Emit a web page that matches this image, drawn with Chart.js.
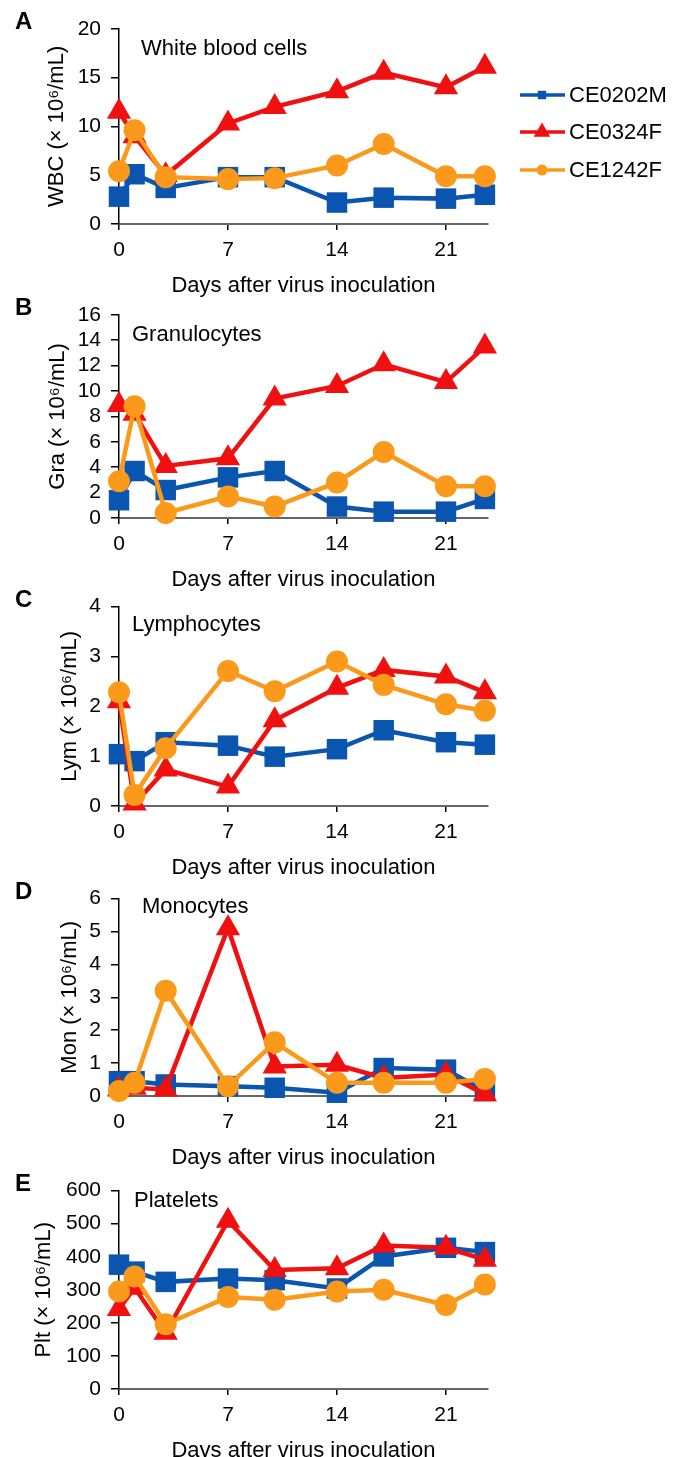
<!DOCTYPE html>
<html>
<head>
<meta charset="utf-8">
<script src="https://cdn.jsdelivr.net/npm/chart.js@4.4.0/dist/chart.umd.min.js"></script>
<style>
  html, body { margin: 0; padding: 0; background: #fff; overflow: hidden; }
  canvas { position: absolute; left: 0; display: block; }
</style>
</head>
<body>
<canvas id="panelA" width="683" height="310"></canvas>
<canvas id="panelB" width="683" height="310"></canvas>
<canvas id="panelC" width="683" height="310"></canvas>
<canvas id="panelD" width="683" height="310"></canvas>
<canvas id="panelE" width="683" height="310"></canvas>
<script>
// days after inoculation (shared by all panels)
const days = [0, 1, 3, 7, 10, 14, 17, 21, 23.5];
const xTicks = [0, 7, 14, 21];
const seriesNames = ['CE0202M', 'CE0324F', 'CE1242F'];

// A - white blood cells
const wbc0202M = [2.8, 5.1, 3.7, 4.8, 4.8, 2.2, 2.7, 2.6, 3.0];
const wbc0324F = [11.5, 9.0, 5.0, 10.3, 12.0, 13.6, 15.5, 14.0, 16.1];
const wbc1242F = [5.4, 9.6, 4.8, 4.6, 4.7, 6.0, 8.2, 4.9, 4.9];
const wbcTicks = [0, 5, 10, 15, 20];

// B - granulocytes
const gra0202M = [1.4, 3.7, 2.2, 3.2, 3.7, 0.9, 0.5, 0.5, 1.5];
const gra0324F = [8.9, 8.2, 4.1, 4.7, 9.4, 10.4, 12.1, 10.7, 13.5];
const gra1242F = [2.9, 8.8, 0.4, 1.7, 0.9, 2.8, 5.2, 2.5, 2.5];
const graTicks = [0, 2, 4, 6, 8, 10, 12, 14, 16];

// C - lymphocytes
const lym0202M = [1.04, 0.9, 1.28, 1.21, 0.99, 1.14, 1.52, 1.28, 1.23];
const lym0324F = [2.1, 0.05, 0.73, 0.39, 1.72, 2.37, 2.73, 2.6, 2.28];
const lym1242F = [2.28, 0.22, 1.16, 2.71, 2.3, 2.9, 2.43, 2.04, 1.91];
const lymTicks = [0, 1, 2, 3, 4];

// D - monocytes
const mon0202M = [0.45, 0.45, 0.35, 0.3, 0.25, 0.1, 0.85, 0.8, 0.15];
const mon0324F = [0.2, 0.25, 0.2, 5.1, 0.9, 0.95, 0.55, 0.65, 0.05];
const mon1242F = [0.15, 0.4, 3.2, 0.3, 1.63, 0.4, 0.4, 0.4, 0.52];
const monTicks = [0, 1, 2, 3, 4, 5, 6];

// E - platelets
const plt0202M = [376, 355, 324, 334, 329, 304, 401, 427, 414];
const plt0324F = [242, 306, 170, 509, 360, 365, 434, 427, 391];
const plt1242F = [295, 340, 196, 278, 270, 295, 300, 254, 316];
const pltTicks = [0, 100, 200, 300, 400, 500, 600];

const xMax = 23.7;
const colors = ['#0a55b0', '#f01010', '#fb9a1a'];
const styles = ['rect', 'triangle', 'circle'];
const radii = [14.5, 14, 11];
const fontFamily = '"Liberation Sans", Arial, sans-serif';

Chart.defaults.font.family = fontFamily;
Chart.defaults.font.size = 21;
Chart.defaults.color = '#000';

const panels = [
  { id: 'panelA', top: 0, letter: 'A', label: 'White blood cells', labelX: 141, labelDy: 26,
    yTitle: 'WBC (× 10⁶/mL)', yTitleX: 57, yTicks: wbcTicks, series: [wbc0202M, wbc0324F, wbc1242F],
    area: { top: 32, bottom: 224 }, legend: true },
  { id: 'panelB', top: 292, letter: 'B', label: 'Granulocytes', labelX: 132, labelDy: 26,
    yTitle: 'Gra (× 10⁶/mL)', yTitleX: 58, yTicks: graTicks, series: [gra0202M, gra0324F, gra1242F],
    area: { top: 29, bottom: 226 } },
  { id: 'panelC', top: 584, letter: 'C', label: 'Lymphocytes', labelX: 132, labelDy: 24,
    yTitle: 'Lym (× 10⁶/mL)', yTitleX: 70, yTicks: lymTicks, series: [lym0202M, lym0324F, lym1242F],
    area: { top: 27, bottom: 222 } },
  { id: 'panelD', top: 876, letter: 'D', label: 'Monocytes', labelX: 142, labelDy: 14,
    yTitle: 'Mon (× 10⁶/mL)', yTitleX: 70, yTicks: monTicks, series: [mon0202M, mon0324F, mon1242F],
    area: { top: 28, bottom: 220 } },
  { id: 'panelE', top: 1168, letter: 'E', label: 'Platelets', labelX: 134, labelDy: 16,
    yTitle: 'Plt (× 10⁶/mL)', yTitleX: 44, yTicks: pltTicks, series: [plt0202M, plt0324F, plt1242F],
    area: { top: 26, bottom: 221 } }
];

function marker(ctx, style, x, y, r) {
  ctx.beginPath();
  if (style === 'rect') {
    const s = r * Math.SQRT1_2;
    ctx.rect(x - s, y - s, 2 * s, 2 * s);
  } else if (style === 'triangle') {
    ctx.moveTo(x, y - r);
    ctx.lineTo(x + r * Math.sqrt(3) / 2, y + r / 2);
    ctx.lineTo(x - r * Math.sqrt(3) / 2, y + r / 2);
    ctx.closePath();
  } else {
    ctx.arc(x, y, r, 0, Math.PI * 2);
  }
  ctx.fill();
}

// panel letter, panel name, y title and (panel A only) the legend
const panelDecor = {
  id: 'panelDecor',
  beforeDatasetsDraw(chart, args, opts) {
    const ctx = chart.ctx, area = chart.chartArea;
    ctx.save();
    ctx.fillStyle = '#000';
    ctx.textBaseline = 'alphabetic';
    ctx.font = 'bold 24px ' + fontFamily;
    ctx.fillText(opts.letter, 15, area.top);
    ctx.font = '22px ' + fontFamily;
    ctx.fillText(opts.label, opts.labelX, area.top + opts.labelDy);

    // rotated y axis title
    ctx.translate(opts.yTitleX, (area.top + area.bottom) / 2);
    ctx.rotate(-Math.PI / 2);
    ctx.textAlign = 'center';
    ctx.textBaseline = 'middle';
    ctx.fillText(opts.yTitle, 0, 0);
    ctx.restore();
  },
  afterDraw(chart, args, opts) {
    if (!opts.legend) return;
    const ctx = chart.ctx;
    const legendY = [95, 132, 170];
    const legendR = [6, 9.5, 5.5];
    ctx.save();
    chart.data.datasets.forEach((ds, i) => {
      const y = legendY[i];
      ctx.strokeStyle = ds.borderColor;
      ctx.fillStyle = ds.borderColor;
      ctx.lineWidth = 3.5;
      ctx.beginPath();
      ctx.moveTo(520, y);
      ctx.lineTo(565, y);
      ctx.stroke();
      marker(ctx, ds.pointStyle, 542, y, legendR[i]);
      ctx.fillStyle = '#000';
      ctx.font = '22px ' + fontFamily;
      ctx.textBaseline = 'middle';
      ctx.fillText(ds.label, 569, y + 1);
    });
    ctx.restore();
  }
};

panels.forEach(p => {
  const canvas = document.getElementById(p.id);
  canvas.style.top = p.top + 'px';
  const yMax = p.yTicks[p.yTicks.length - 1];

  const chart = new Chart(canvas, {
    type: 'line',
    data: {
      datasets: p.series.map((vals, i) => ({
        label: seriesNames[i],
        data: days.map((d, k) => ({ x: d, y: vals[k] })),
        borderColor: colors[i],
        backgroundColor: colors[i],
        borderWidth: 4.5,
        pointStyle: styles[i],
        pointRadius: radii[i],
        pointHoverRadius: radii[i],
        pointBorderWidth: 0,
        tension: 0,
        clip: false,
        order: 3 - i
      }))
    },
    options: {
      responsive: false,
      animation: false,
      events: [],
      layout: { padding: { left: 10, right: 190, top: 10, bottom: 0 } },
      plugins: {
        legend: { display: false },
        tooltip: { enabled: false },
        panelDecor: { letter: p.letter, label: p.label, labelX: p.labelX, labelDy: p.labelDy,
                      yTitle: p.yTitle, yTitleX: p.yTitleX, legend: !!p.legend }
      },
      scales: {
        x: {
          type: 'linear',
          min: 0,
          max: xMax,
          afterBuildTicks: s => { s.ticks = xTicks.map(v => ({ value: v })); },
          grid: { drawOnChartArea: false, color: '#000', tickLength: 6, lineWidth: 1.5 },
          border: { color: '#666', width: 2 },
          ticks: { padding: 8, autoSkip: false, maxRotation: 0, font: { size: 21 } },
          title: { display: true, text: 'Days after virus inoculation', font: { size: 22 }, padding: { top: 2, bottom: 0 } }
        },
        y: {
          min: 0,
          max: yMax,
          afterBuildTicks: s => { s.ticks = p.yTicks.map(v => ({ value: v })); },
          grid: { drawOnChartArea: false, color: '#000', tickLength: 8, lineWidth: 1.5 },
          border: { color: '#000', width: 1.5 },
          ticks: { padding: 10, autoSkip: false, font: { size: 21 } }
        }
      }
    },
    plugins: [panelDecor]
  });

  // nudge the padding so the plot area sits where the reference has it
  for (let pass = 0; pass < 2; pass++) {
    const pad = chart.options.layout.padding;
    const a = chart.chartArea;
    pad.left = Math.max(0, pad.left + 119 - a.left);
    pad.right = Math.max(0, pad.right + a.right - 488);
    pad.top = Math.max(0, pad.top + p.area.top - a.top);
    pad.bottom = Math.max(0, pad.bottom + a.bottom - p.area.bottom);
    chart.update();
  }
});
</script>
</body>
</html>
